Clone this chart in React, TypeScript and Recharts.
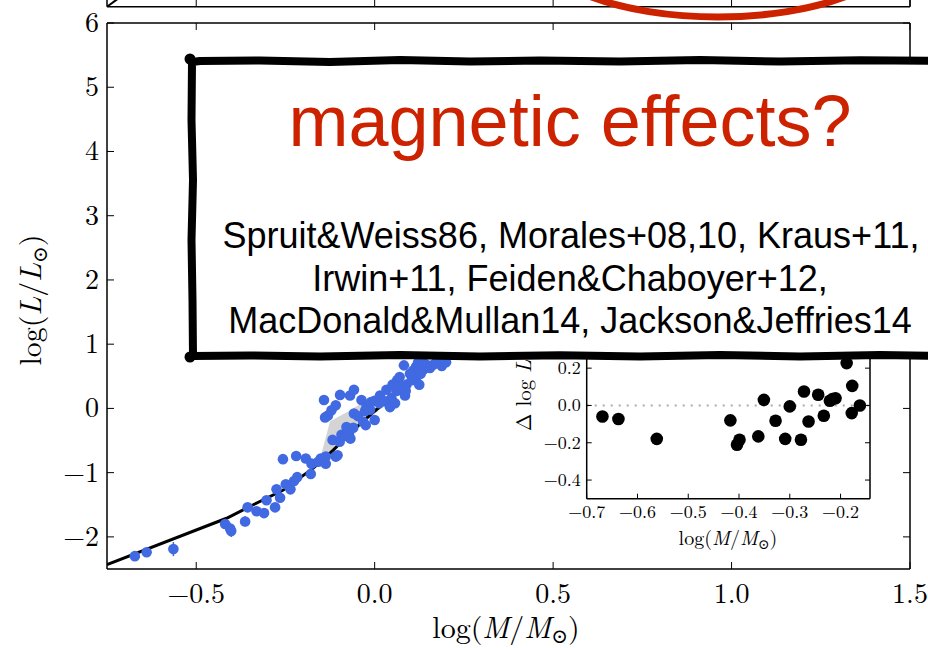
import React from 'react';
import { ComposedChart, Scatter, Line, Area, XAxis, YAxis, ErrorBar, ReferenceLine } from 'recharts';

// ---- main panel data ----
const starLogM = [-0.672, -0.639, -0.564, -0.419, -0.405, -0.402, -0.363, -0.356, -0.331, -0.310, -0.303, -0.279, -0.265, -0.275, -0.249, -0.236, -0.226, -0.217, -0.257, -0.220, -0.193, -0.179, -0.177, -0.158, -0.151, -0.137, -0.137, -0.109, -0.104, -0.118, -0.093, -0.079, -0.084, -0.072, -0.060, -0.068, -0.098, -0.139, -0.131, -0.121, -0.109, -0.142, -0.097, -0.069, -0.058, -0.058, -0.047, -0.037, -0.027, -0.023, -0.032, -0.025, -0.013, -0.010, 0.000, 0.000, 0.015, 0.013, 0.029, 0.033, 0.043, 0.047, 0.057, 0.050, 0.063, 0.061, 0.075, 0.070, 0.085, 0.089, 0.087, 0.082, 0.099, 0.108, 0.104, 0.116, 0.117, 0.125, 0.129, 0.122, 0.136, 0.155, 0.164, 0.188, 0.145, 0.136, 0.175, 0.200];
const starLogL = [-2.30, -2.24, -2.19, -1.80, -1.87, -1.91, -1.76, -1.54, -1.60, -1.63, -1.43, -1.54, -1.39, -1.26, -1.18, -1.26, -1.13, -1.07, -0.79, -0.74, -0.78, -1.02, -0.86, -0.83, -0.78, -0.75, -0.86, -0.75, -0.73, -0.49, -0.41, -0.29, -0.43, -0.39, -0.30, -0.47, -0.52, -0.14, -0.11, -0.03, 0.05, 0.13, 0.21, 0.20, 0.29, -0.08, -0.12, 0.13, -0.04, 0.02, -0.21, -0.26, -0.02, 0.10, -0.18, 0.12, 0.20, 0.08, 0.11, 0.29, 0.02, 0.16, 0.08, 0.37, 0.44, 0.27, 0.35, 0.49, 0.20, 0.37, 0.27, 0.67, 0.54, 0.59, 0.44, 0.65, 0.49, 0.37, 0.54, 0.72, 0.60, 0.63, 0.68, 0.66, 0.68, 0.72, 0.75, 0.72];
const starErr = [0.03, 0.03, 0.11, 0.05, 0.09, 0.09, 0.08, 0.04, 0.04, 0.04, 0.04, 0.04, 0.04, 0.04, 0.04, 0.04, 0.04, 0.04, 0.04, 0.04, 0.05, 0.04, 0.04, 0.04, 0.04, 0.04, 0.04, 0.08, 0.07, 0.04, 0.04, 0.04, 0.04, 0.04, 0.04, 0.04, 0.04, 0.04, 0.04, 0.04, 0.04, 0.04, 0.04, 0.04, 0.04, 0.04, 0.04, 0.04, 0.04, 0.04, 0.04, 0.04, 0.04, 0.04, 0.04, 0.04, 0.04, 0.04, 0.04, 0.04, 0.04, 0.04, 0.04, 0.04, 0.04, 0.04, 0.04, 0.04, 0.04, 0.04, 0.04, 0.04, 0.04, 0.04, 0.04, 0.04, 0.04, 0.04, 0.04, 0.04, 0.04, 0.04, 0.04, 0.04, 0.04, 0.04, 0.04, 0.04];

const modelLogM = [-0.75, -0.415, -0.34, -0.256, -0.172, -0.116, -0.06, -0.004, 0.043, 0.108, 0.155, 0.25, 0.4];
const modelLogL = [-2.43, -1.71, -1.50, -1.27, -0.93, -0.65, -0.34, -0.06, 0.15, 0.43, 0.64, 1.05, 1.7];

const bandLogM = [-0.149, -0.125, -0.074, -0.041, 0.0, 0.009];
const bandLow = [-0.80, -0.68, -0.38, -0.25, -0.08, -0.05];
const bandHigh = [-0.70, -0.20, -0.05, 0.07, 0.05, -0.05];

const xTicks = [-0.5, 0, 0.5, 1.0, 1.5];
const yTicks = [-2, -1, 0, 1, 2, 3, 4, 5, 6];

// ---- upper (cut-off) panel ----
const upperLogM = [-0.75, -0.57];
const upperVal = [0.0, 1.0];

// ---- inset data ----
const insetLogM = [-0.669, -0.6375, -0.562, -0.417, -0.404, -0.399, -0.362, -0.351, -0.328, -0.300, -0.309, -0.278, -0.272, -0.263, -0.244, -0.233, -0.221, -0.216, -0.210, -0.188, -0.177, -0.178, -0.162];
const insetDelta = [-0.059, -0.073, -0.179, -0.080, -0.211, -0.184, -0.166, 0.030, -0.082, -0.005, -0.179, -0.184, 0.075, -0.086, 0.057, -0.055, 0.025, 0.034, 0.039, 0.227, 0.105, -0.041, 0.0];
const insetXTicks = [-0.7, -0.6, -0.5, -0.4, -0.3, -0.2];
const insetYTicks = [-0.4, -0.2, 0.0, 0.2, 0.4];

const stars = starLogM.map((x, i) => ({ x, y: starLogL[i], err: starErr[i] }));
const model = modelLogM.map((x, i) => ({ x, y: modelLogL[i] }));
const band = bandLogM.map((x, i) => ({ x, range: [bandLow[i], bandHigh[i]] }));
const upper = upperLogM.map((x, i) => ({ x, y: upperVal[i] }));
const inset = insetLogM.map((x, i) => ({ x, y: insetDelta[i] }));

const SERIF = '"Latin Modern Roman", "CMU Serif", "Liberation Serif", "DejaVu Serif", serif';
const SANS = '"Liberation Sans", Arial, Helvetica, sans-serif';
const BLUE = '#4169E1';
const RED = '#cc2200';

const minus = (s: string) => s.replace('-', '\u2212');
const fmt1 = (v: number) => minus(v.toFixed(1));
const fmt0 = (v: number) => minus(String(v));

const mkBottom = (len: number, dy: number, size: number, f: (v: number) => string, show = true) => (p: any) => (
  <g>
    <line x1={p.x} x2={p.x} y1={p.y} y2={p.y - len} stroke="#000" strokeWidth={1} />
    {show && (
      <text x={p.x} y={p.y + dy} textAnchor="middle" fontFamily={SERIF} fontSize={size} fill="#000">
        {f(p.payload.value)}
      </text>
    )}
  </g>
);
const mkTop = (len: number) => (p: any) => (
  <line x1={p.x} x2={p.x} y1={p.y} y2={p.y + len} stroke="#000" strokeWidth={1} />
);
const mkLeft = (len: number, dx: number, dy: number, size: number, f: (v: number) => string) => (p: any) => (
  <g>
    <line x1={p.x} x2={p.x + len} y1={p.y} y2={p.y} stroke="#000" strokeWidth={1} />
    <text x={p.x - dx} y={p.y + dy} textAnchor="end" fontFamily={SERIF} fontSize={size} fill="#000">
      {f(p.payload.value)}
    </text>
  </g>
);
const mkRight = (len: number) => (p: any) => (
  <line x1={p.x} x2={p.x - len} y1={p.y} y2={p.y} stroke="#000" strokeWidth={1} />
);
const noTick = () => <g />;

const frame = { stroke: '#000', strokeWidth: 1.5 };

const BlueDot = (p: any) => <circle cx={p.cx} cy={p.cy} r={5.3} fill={BLUE} />;
const BlackDot = (p: any) => <circle cx={p.cx} cy={p.cy} r={6.3} fill="#000" />;

function MainChart() {
  return (
    <ComposedChart width={928} height={648} margin={{ top: 0, right: 0, bottom: 0, left: 0 }}>
      <XAxis xAxisId="b" type="number" dataKey="x" domain={[-0.75, 1.5]} ticks={xTicks} interval={0}
        orientation="bottom" height={79} allowDataOverflow axisLine={frame} tickLine={false}
        tickSize={0} tickMargin={0} tick={mkBottom(7, 34, 28, fmt1)} />
      <XAxis xAxisId="t" type="number" dataKey="x" domain={[-0.75, 1.5]} ticks={xTicks} interval={0}
        orientation="top" height={23} allowDataOverflow axisLine={frame} tickLine={false}
        tickSize={0} tickMargin={0} tick={mkTop(7)} />
      <YAxis yAxisId="l" type="number" domain={[-2.5, 6]} ticks={yTicks} interval={0}
        orientation="left" width={107} allowDataOverflow axisLine={frame} tickLine={false}
        tickSize={0} tickMargin={0} tick={mkLeft(7, 8, 9, 28, fmt0)} />
      <YAxis yAxisId="r" type="number" domain={[-2.5, 6]} ticks={yTicks} interval={0}
        orientation="right" width={18} allowDataOverflow axisLine={frame} tickLine={false}
        tickSize={0} tickMargin={0} tick={mkRight(7)} />
      <Area xAxisId="b" yAxisId="l" data={band} dataKey="range" type="linear" stroke="none"
        fill="#cccccc" fillOpacity={0.85} isAnimationActive={false} />
      <Line xAxisId="b" yAxisId="l" data={model} dataKey="y" type="linear" stroke="#000"
        strokeWidth={3} dot={false} isAnimationActive={false} />
      <Scatter xAxisId="b" yAxisId="l" data={stars} dataKey="y" shape={BlueDot} isAnimationActive={false}>
        <ErrorBar dataKey="err" direction="y" width={0} stroke={BLUE} strokeWidth={1.5} />
      </Scatter>
    </ComposedChart>
  );
}

function UpperChart() {
  return (
    <ComposedChart width={928} height={86} margin={{ top: 0, right: 0, bottom: 0, left: 0 }}>
      <XAxis xAxisId="b" type="number" dataKey="x" domain={[-0.75, 1.5]} ticks={xTicks} interval={0}
        orientation="bottom" height={39.3} allowDataOverflow axisLine={frame} tickLine={false}
        tickSize={0} tickMargin={0} tick={mkBottom(7, 0, 1, fmt1, false)} />
      <YAxis yAxisId="l" type="number" domain={[0, 1]} ticks={[]} orientation="left" width={107}
        allowDataOverflow axisLine={frame} tickLine={false} tick={noTick} />
      <YAxis yAxisId="r" type="number" domain={[0, 1]} ticks={[]} orientation="right" width={18}
        allowDataOverflow axisLine={frame} tickLine={false} tick={noTick} />
      <Line xAxisId="b" yAxisId="l" data={upper} dataKey="y" type="linear" stroke="#000"
        strokeWidth={2} dot={false} isAnimationActive={false} />
    </ComposedChart>
  );
}

function InsetChart() {
  return (
    <ComposedChart width={420} height={300} margin={{ top: 0, right: 0, bottom: 0, left: 0 }}>
      <XAxis xAxisId="b" type="number" dataKey="x" domain={[-0.7, -0.142]} ticks={insetXTicks} interval={0}
        orientation="bottom" height={81.3} allowDataOverflow axisLine={frame} tickLine={false}
        tickSize={0} tickMargin={0} tick={mkBottom(5, 19, 18, fmt1)} />
      <XAxis xAxisId="t" type="number" dataKey="x" domain={[-0.7, -0.142]} ticks={insetXTicks} interval={0}
        orientation="top" height={32.2} allowDataOverflow axisLine={frame} tickLine={false}
        tickSize={0} tickMargin={0} tick={mkTop(5)} />
      <YAxis yAxisId="l" type="number" domain={[-0.5, 0.5]} ticks={insetYTicks} interval={0}
        orientation="left" width={106.7} allowDataOverflow axisLine={frame} tickLine={false}
        tickSize={0} tickMargin={0} tick={mkLeft(5, 6, 6, 18, fmt1)} />
      <YAxis yAxisId="r" type="number" domain={[-0.5, 0.5]} ticks={insetYTicks} interval={0}
        orientation="right" width={30} allowDataOverflow axisLine={frame} tickLine={false}
        tickSize={0} tickMargin={0} tick={mkRight(5)} />
      <ReferenceLine xAxisId="b" yAxisId="l" y={0} stroke="#aaaaaa" strokeWidth={2} strokeDasharray="2 6" />
      <Scatter xAxisId="b" yAxisId="l" data={inset} dataKey="y" shape={BlackDot} isAnimationActive={false} />
    </ComposedChart>
  );
}

const boxPath =
  'M 192 62 L 200 61 L 260 60.5 L 330 62 L 400 60 L 470 61.5 L 540 60.5 L 620 61.5 L 700 60 L 780 61.5 L 860 60.3 L 945 61 ' +
  'L 945 356 L 880 355 L 800 356.5 L 720 355 L 640 356.5 L 560 355.3 L 480 356.5 L 400 355 L 320 356.5 L 250 355.5 L 193 356 ' +
  'L 192.5 300 L 191.5 240 L 193 180 L 191.5 120 Z';

function AxisLabels() {
  return (
    <svg width={928} height={648} style={{ position: 'absolute', left: 0, top: 0, pointerEvents: 'none' }}>
      <text x={506} y={638} textAnchor="middle" fontFamily={SERIF} fontSize={30} fill="#000">
        log(<tspan fontStyle="italic">M</tspan>/<tspan fontStyle="italic">M</tspan><tspan fontSize={20} dy={5}>⊙</tspan><tspan dy={-5}>)</tspan>
      </text>
      <text x={41} y={300} transform="rotate(-90 41 300)" textAnchor="middle" fontFamily={SERIF} fontSize={30} fill="#000">
        log(<tspan fontStyle="italic">L</tspan>/<tspan fontStyle="italic">L</tspan><tspan fontSize={20} dy={6}>⊙</tspan><tspan dy={-6}>)</tspan>
      </text>
      <text x={728} y={545} textAnchor="middle" fontFamily={SERIF} fontSize={20} fill="#000">
        log(<tspan fontStyle="italic">M</tspan>/<tspan fontStyle="italic">M</tspan><tspan fontSize={14} dy={4}>⊙</tspan><tspan dy={-4}>)</tspan>
      </text>
      <text x={531} y={431} transform="rotate(-90 531 431)" textAnchor="start" fontFamily={SERIF} fontSize={21} fill="#000">
        Δ log <tspan fontStyle="italic">L</tspan>/<tspan fontStyle="italic">L</tspan><tspan fontSize={14} dy={4}>⊙</tspan>
      </text>
    </svg>
  );
}

function Callout() {
  return (
    <svg width={928} height={648} style={{ position: 'absolute', left: 0, top: 0, pointerEvents: 'none' }}>
      <ellipse cx={718} cy={-60} rx={188} ry={77} fill="none" stroke={RED} strokeWidth={7} />
      <path d={boxPath} fill="#fff" stroke="#000" strokeWidth={8} strokeLinejoin="round" />
      <circle cx={190} cy={59} r={5.5} fill="#000" />
      <circle cx={190} cy={357} r={5.5} fill="#000" />
      <text x={570} y={146} textAnchor="middle" fontFamily={SANS} fontSize={72} fill={RED}>magnetic effects?</text>
      <text x={571} y={248} textAnchor="middle" fontFamily={SANS} fontSize={36} fill="#000">Spruit&amp;Weiss86, Morales+08,10, Kraus+11,</text>
      <text x={570} y={291} textAnchor="middle" fontFamily={SANS} fontSize={36} fill="#000">Irwin+11, Feiden&amp;Chaboyer+12,</text>
      <text x={570} y={333} textAnchor="middle" fontFamily={SANS} fontSize={36} fill="#000">MacDonald&amp;Mullan14, Jackson&amp;Jeffries14</text>
    </svg>
  );
}

export default function App() {
  return (
    <div style={{ position: 'absolute', left: 0, top: 0, width: 928, height: 648, overflow: 'hidden', background: '#fff' }}>
      <div style={{ position: 'absolute', left: 0, top: 0 }}>
        <MainChart />
      </div>
      <div style={{ position: 'absolute', left: 0, top: -40 }}>
        <UpperChart />
      </div>
      <div style={{ position: 'absolute', left: 480, top: 280 }}>
        <InsetChart />
      </div>
      <AxisLabels />
      <Callout />
    </div>
  );
}
